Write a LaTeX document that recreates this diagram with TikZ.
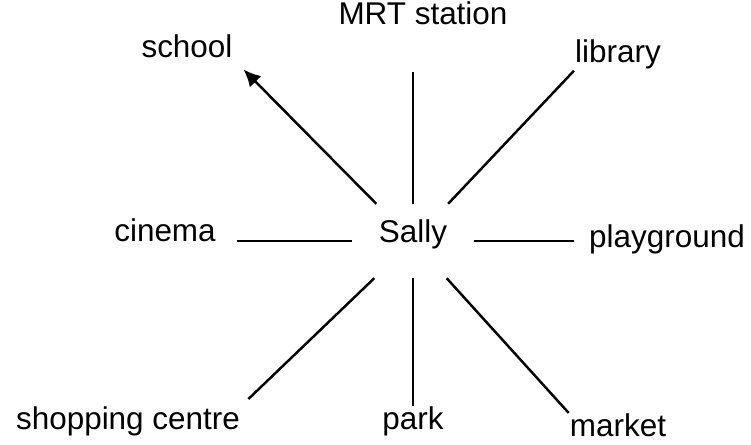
\documentclass[tikz,border=0pt]{standalone}
\usepackage{fontspec}
\setmainfont{Liberation Sans}
\usetikzlibrary{arrows.meta}

\begin{document}
\begin{tikzpicture}[x=0.02cm, y=-0.02cm, >={Latex[length=0.34cm, width=0.32cm]}, font=\fontsize{17.9pt}{21pt}\selectfont, line width=1.4pt]
	\tikzstyle{place} = [anchor=base, inner sep=0pt]
	\tikzstyle{hub} = [rectangle, minimum width=2.4cm, minimum height=1.44cm, text height=0.75em, text depth=0.55em]
	
	\useasboundingbox (0, 0) rectangle (751, 445);
	
	\node[hub]	at (413, 241)	(sally)	{Sally};
	\node[place]	at (423, 25)	(mrt)	{MRT station};
	\node[place]	at (187, 58)	(school)	{school};
	\node[place]	at (618, 63)	(library)	{library};
	\node[place]	at (165, 242)	(cinema)	{cinema};
	\node[place]	at (667, 248)	(playground)	{playground};
	\node[place]	at (128, 430)	(shopping)	{shopping centre};
	\node[place]	at (413, 430)	(park)	{park};
	\node[place]	at (618, 437)	(market)	{market};
	
	\path[draw]
	(sally) edge[->, shorten >=0.28cm] (school.south east)
	(sally.north) edge[shorten >=0.9cm] (sally.north |- mrt.south)
	(sally) edge (library.south west)
	(sally.west) edge[shorten >=0.4cm] (sally.west -| cinema.east)
	(sally.east) edge[shorten >=0.28cm] (sally.east -| playground.west)
	(sally) edge[shorten >=0.2cm] (shopping.north east)
	(sally.south) edge (sally.south |- park.north)
	(sally) edge (market.north west);
	
\end{tikzpicture}
\end{document}
